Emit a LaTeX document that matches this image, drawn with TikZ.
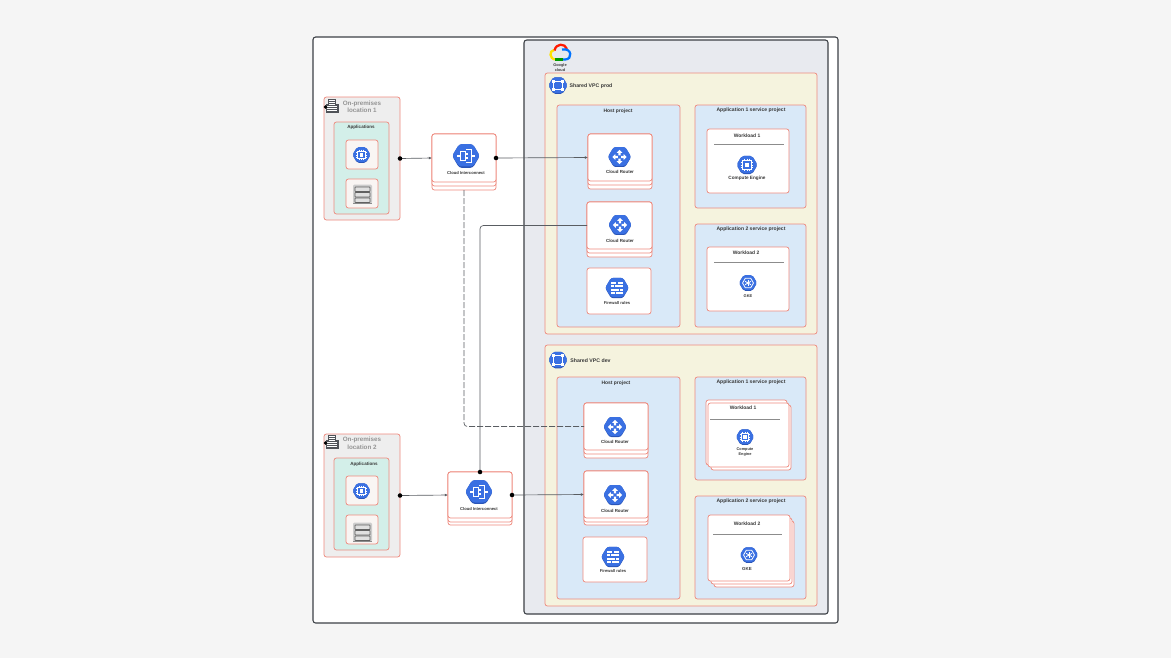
\documentclass[tikz,border=0pt]{standalone}
\usepackage{fontspec}
\setmainfont{Liberation Sans}
\usetikzlibrary{arrows.meta}
\newcounter{tn}
\definecolor{sal}{HTML}{EE8A7E}
\definecolor{dk}{HTML}{3C4046}
\definecolor{hexb}{HTML}{3A70E2}
\definecolor{hexd}{HTML}{2A55B8}
\definecolor{gcpc}{HTML}{E8EAEF}
\definecolor{vpcc}{HTML}{F5F3DE}
\definecolor{projc}{HTML}{D9E9F8}
\definecolor{opc}{HTML}{EEEEEE}
\definecolor{appc}{HTML}{D3EFE9}
\definecolor{tilec}{HTML}{F9F5F3}
\tikzset{
  base/.style={draw=sal,line width=.55pt,rounded corners=1.8pt,inner sep=0pt,outer sep=0pt},
  outerbox/.style={draw=dk,line width=.8pt,rounded corners=2pt,fill=white,inner sep=0pt,outer sep=0pt},
  gcpbox/.style={outerbox,fill=gcpc},
  vpc/.style={base,fill=vpcc},
  proj/.style={base,fill=projc},
  onprem/.style={base,fill=opc},
  apps/.style={base,fill=appc},
  tile/.style={base,fill=tilec},
  card/.style={base,fill=white},
  txt/.style={inner sep=0pt,outer sep=0pt,align=center,text=#1,yshift=-.5pt},
  txt/.default=black!78,
  conn/.style={draw=dk!85,line width=.5pt},
  rule/.style={draw=black!45,line width=.3pt},
  dot/.style={circle,fill=black,inner sep=0pt,minimum size=3.4pt,outer sep=0pt},
  tip/.style={-{Latex[length=2.4pt,width=2.2pt]}},
}
\newcommand\bx[6]{%
  \pgfmathsetmacro\bw{(#5-#3)*0.75}\pgfmathsetmacro\bh{(#6-#4)*0.75}%
  \node[#2,minimum width=\bw pt,minimum height=\bh pt] (#1) at ({(#3+#5)/2},{(#4+#6)/2}) {};}
\newcommand\lbl[4]{%
  \stepcounter{tn}%
  \node[txt,font=\fontsize{#3pt}{#3pt}\selectfont\bfseries] (t\thetn) at (#1,#2) {#4};}
\newcommand\glbl[4]{%
  \stepcounter{tn}%
  \node[txt=black!42,font=\fontsize{#3pt}{#3pt}\selectfont\bfseries] (t\thetn) at (#1,#2) {#4};}
\newcommand\hexi[4]{%
  \begin{scope}[shift={(#1,#2)},scale=#3]
  \pgfmathsetmacro\rc{#3*.16}
  \fill[hexd,rounded corners=\rc pt] (1.13,0)--(.56,.97)--(-.56,.97)--(-1.13,0)--(-.56,-.97)--(.56,-.97)--cycle;
  \fill[hexb,rounded corners=\rc pt] (1.13,-.03)--(.56,.86)--(-.56,.86)--(-1.13,-.03)--(-.56,-.97)--(.56,-.97)--cycle;
  \pgfmathsetmacro\lw{#3*.075}
  \begin{scope}[line width=\lw pt,draw=white,fill=white]#4\end{scope}
  \end{scope}}
\newcommand\grouter{\foreach \a in {0,90,180,270}{\begin{scope}[rotate=\a]
  \fill[white] (.7,0)--(.4,-.28)--(.4,-.11)--(.16,-.11)--(.16,.11)--(.4,.11)--(.4,.28)--cycle;
  \end{scope}}}
\newcommand\gic{\draw (-.72,0)--(-.48,0);\draw (-.48,-.34) rectangle (-.06,.34);
  \draw (-.02,-.56)--(.42,-.56)--(.42,.56)--(-.02,.56);\draw (.42,0)--(.72,0);
  \draw (-.06,-.17)--(.16,-.17);\draw (-.06,.17)--(.16,.17);}
\newcommand\gchip{\draw (-.46,-.46) rectangle (.46,.46);\fill (-.22,-.22) rectangle (.22,.22);
  \foreach \p in {-.28,0,.28}{\draw (\p,-.68)--(\p,-.46);\draw (\p,.46)--(\p,.68);\draw (-.68,\p)--(-.46,\p);\draw (.46,\p)--(.68,\p);}}
\newcommand\gfw{\foreach \yy/\aa/\bb in {-.48/-.6/-.05,-.48/.05/.6,-.16/-.6/-.25,-.16/-.15/.6,.16/-.6/.15,.16/.25/.6,.48/-.6/-.2,.48/-.1/.6}{\fill (\aa,\yy-.1) rectangle (\bb,\yy+.1);}}
\newcommand\ggke{\draw (.68,0)--(.34,.59)--(-.34,.59)--(-.68,0)--(-.34,-.59)--(.34,-.59)--cycle;
  \foreach \a in {30,90,150,210,270,330}{\draw (0,0)--(\a:.42);}\fill (0,0) circle (.16);}
\newcommand\gvpc{\draw (-.5,-.5) rectangle (.5,.5);
  \foreach \p/\q in {-.5/-.5,.5/-.5,-.5/.5,.5/.5}{\fill (\p-.18,\q-.18) rectangle (\p+.18,\q+.18);}}
\newcommand\gstore[2]{\begin{scope}[shift={(#1,#2)}]
  \fill[black!20,rounded corners=1pt] (-9.5,-9.5) rectangle (9.5,9.5);
  \foreach \yy in {-7,-1.5,4}{\fill[black!12,draw=black!62,line width=.55pt,rounded corners=.4pt] (-7.5,\yy) rectangle (7.5,\yy+4.5);}
  \fill[black!45] (-9.5,8.5) rectangle (9.5,9.5);
  \end{scope}}
\newcommand\gbuild[2]{\begin{scope}[shift={(#1,#2)}]
  \fill[dk!90] (-4,-7) rectangle (4,7);\fill[dk!90] (-6.5,-2) rectangle (6.5,7);
  \foreach \yy in {-5.5,-3.5,-1.5}{\draw[white,line width=.3pt] (-3,\yy)--(3,\yy);}
  \foreach \yy in {.5,2.5,4.5}{\draw[white,line width=.5pt] (-5,\yy)--(5,\yy);}
  \fill[black] (-6.5,1) circle (1.8);
  \end{scope}}
\begin{document}
\begin{tikzpicture}[x=.75pt,y=-.75pt]
\useasboundingbox (0,0) rectangle (1171,658);
\fill[black!4] (0,0) rectangle (1171,658);
\bx{outer}{outerbox}{313}{37}{838}{623}
\bx{gcp}{gcpbox}{524}{40}{828}{614}
\bx{vpcp}{vpc}{545}{73}{817}{334}
\bx{vpcd}{vpc}{545}{345}{817}{606}
\bx{hostp}{proj}{557}{105}{680}{327}
\bx{a1p}{proj}{695}{105}{806}{208}
\bx{a2p}{proj}{695}{224}{806}{327}
\bx{w1p}{card}{707}{129}{789}{193}
\bx{w2p}{card}{707}{247}{789}{311}
\bx{r1c}{card}{588}{134}{652}{189}
\bx{r1b}{card}{588}{134}{652}{185}
\bx{r1}{card}{588}{134}{652}{181}
\bx{r2c}{card}{587}{202}{652}{257}
\bx{r2b}{card}{587}{202}{652}{253}
\bx{r2}{card}{587}{202}{652}{249}
\bx{f1}{card}{587}{268}{651}{314}
\bx{hostd}{proj}{557}{377}{680}{599}
\bx{a1d}{proj}{695}{377}{806}{480}
\bx{a2d}{proj}{695}{496}{806}{599}
\bx{w1dc}{card}{711}{405}{791}{470}
\bx{w1db}{card}{706}{400}{787}{465}
\bx{w1d}{card}{708}{403}{789}{467}
\bx{w2dc}{card}{714}{521}{794}{587}
\bx{w2db}{card}{711}{518}{792}{584}
\bx{w2d}{card}{708}{515}{790}{581}
\bx{r3c}{card}{584}{403}{648}{458}
\bx{r3b}{card}{584}{403}{648}{454}
\bx{r3}{card}{584}{403}{648}{450}
\bx{r4c}{card}{584}{471}{648}{525}
\bx{r4b}{card}{584}{471}{648}{522}
\bx{r4}{card}{584}{471}{648}{518}
\bx{f2}{card}{583}{537}{647}{582}
\bx{op1}{onprem}{324}{97}{400}{220}
\bx{ap1}{apps}{334}{122}{389}{214}
\bx{t11}{tile}{346}{140}{378}{169}
\bx{t12}{tile}{346}{179}{378}{208}
\bx{op2}{onprem}{324}{434}{400}{557}
\bx{ap2}{apps}{334}{458}{389}{550}
\bx{t21}{tile}{346}{476}{378}{505}
\bx{t22}{tile}{346}{515}{378}{544}
\bx{ic1c}{card}{432}{134}{496}{190}
\bx{ic1b}{card}{432}{134}{496}{186}
\bx{ic1}{card}{432}{134}{496}{182}
\bx{ic2c}{card}{448}{472}{512}{525}
\bx{ic2b}{card}{448}{472}{512}{522}
\bx{ic2}{card}{448}{472}{512}{518}
\coordinate (dashturn) at (ic1c.south |- r3.west);
\coordinate (solidturn) at (ic2.north |- r2.west);
\draw[conn,tip] (op1.east) -- (ic1.west);
\draw[conn,tip] (ic1.east) -- (r1.west);
\draw[conn,tip] (op2.east) -- (ic2.west);
\draw[conn,tip] (ic2.east) -- (r4.west);
\draw[conn,dash pattern=on 4.5pt off 1.5pt,rounded corners=2.5pt] (ic1c.south) -- (dashturn) -- (r3.west);
\draw[conn,rounded corners=2.5pt] (ic2.north) -- (solidturn) -- (r2.west);
\node[dot] (d1) at (op1.east) {};
\node[dot] (d2) at (ic1.east) {};
\node[dot] (d3) at (op2.east) {};
\node[dot] (d4) at (ic2.east) {};
\node[dot] (d5) at (ic2.north) {};
\begin{scope}[line width=1.7pt]
\draw[draw=yellow!85!orange] (556,59.5) .. controls (549,59.5) and (549,50.5) .. (554,50);
\draw[draw=red!80!orange] (554.5,50.5) .. controls (556,43) and (565,43) .. (567,49);
\draw[draw=blue!55!cyan] (562,49.5) .. controls (572,47.5) and (573,59.5) .. (565,59.5) -- (562,59.5);
\draw[draw=green!60!black] (555,59.5) -- (563,59.5);
\end{scope}
\lbl{560}{64.5}{2.9}{Google}
\lbl{560}{69.5}{2.9}{cloud}
\hexi{558}{85.5}{8.5}{\gvpc}
\lbl{591}{85}{3.9}{Shared VPC prod}
\hexi{558}{360}{8.5}{\gvpc}
\lbl{590.5}{360}{3.9}{Shared VPC dev}
\lbl{618}{111}{3.7}{Host project}
\lbl{751}{110}{3.8}{Application 1 service project}
\lbl{747}{135}{3.7}{Workload 1}
\draw[rule] (714,144) -- (784,144);
\hexi{747}{165}{9.3}{\gchip}
\lbl{747}{178}{3.5}{Compute Engine}
\lbl{751}{229}{3.8}{Application 2 service project}
\lbl{746}{252}{3.7}{Workload 2}
\draw[rule] (714,262) -- (784,262);
\hexi{748}{283}{8}{\ggke}
\lbl{748}{295}{3}{GKE}
\hexi{619.5}{157}{10.3}{\grouter}
\lbl{620}{171}{3.3}{Cloud Router}
\hexi{620}{225}{10.3}{\grouter}
\lbl{620}{240}{3.3}{Cloud Router}
\hexi{617}{288}{10.5}{\gfw}
\lbl{617}{302.5}{3.1}{Firewall rules}
\lbl{616}{383}{3.7}{Host project}
\lbl{751}{382}{3.8}{Application 1 service project}
\lbl{743}{407}{3.7}{Workload 1}
\draw[rule] (710,419) -- (780,419);
\hexi{745}{437}{8}{\gchip}
\lbl{745}{448.5}{2.9}{Compute}
\lbl{745}{454}{2.9}{Engine}
\lbl{751}{501}{3.8}{Application 2 service project}
\lbl{747}{523}{3.7}{Workload 2}
\draw[rule] (713,534) -- (782,534);
\hexi{749}{555}{8}{\ggke}
\lbl{747}{568}{3.3}{GKE}
\hexi{615}{427}{10.3}{\grouter}
\lbl{615}{441}{3.3}{Cloud Router}
\hexi{615}{495}{10.3}{\grouter}
\lbl{615}{510}{3.3}{Cloud Router}
\hexi{613}{557}{10.5}{\gfw}
\lbl{613}{570.5}{3.1}{Firewall rules}
\gbuild{332}{106}
\glbl{362}{103}{4.7}{On-premises}
\glbl{362}{110}{4.7}{location 1}
\lbl{361}{127}{3.4}{Applications}
\hexi{361.5}{155}{8}{\gchip}
\gstore{362.5}{194}
\gbuild{332}{442}
\glbl{362}{439}{4.7}{On-premises}
\glbl{362}{447}{4.7}{location 2}
\lbl{364}{464}{3.4}{Applications}
\hexi{361.5}{491}{8}{\gchip}
\gstore{362.5}{532}
\hexi{466}{156}{12.2}{\gic}
\lbl{466}{172}{3.1}{Cloud Interconnect}
\hexi{479}{492}{12.2}{\gic}
\lbl{479}{508}{3.1}{Cloud Interconnect}
\end{tikzpicture}
\end{document}
